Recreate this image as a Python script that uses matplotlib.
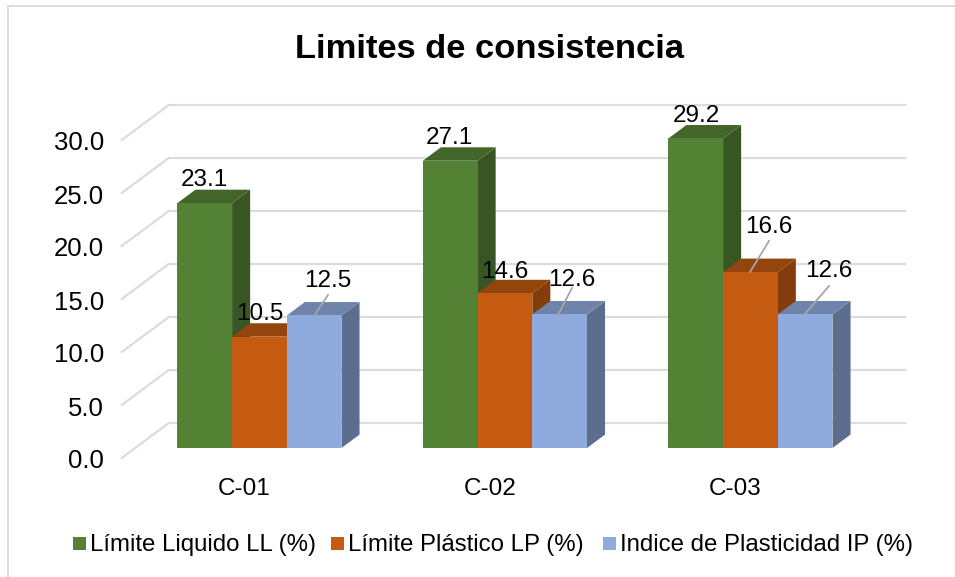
import matplotlib
matplotlib.use("Agg")
import matplotlib.pyplot as plt
from matplotlib.patches import Polygon, Rectangle

categories = ["C-01", "C-02", "C-03"]
series_names = ["Límite Liquido LL (%)", "Límite Plástico LP (%)", "Indice de Plasticidad IP (%)"]
ll_values = [23.1, 27.1, 29.2]
lp_values = [10.5, 14.6, 16.6]
ip_values = [12.5, 12.6, 12.6]
y_ticks = [0, 5, 10, 15, 20, 25, 30]

front_colors = ["#548235", "#C55A11", "#8FAADC"]
top_colors = ["#426529", "#94440D", "#6F84AB"]
side_colors = ["#375623", "#843C0C", "#5C6D8E"]

W, H = 955, 577
X_UNIT = 245.5   # px per category
Y_UNIT = 10.6    # px per value unit
X0, Y0 = 244.5, 458.0   # px of category 0 / value 0 on the front floor edge
DEPTH_X, DEPTH_Y = 47 / X_UNIT, 35 / Y_UNIT  # full floor depth in data units
BAR_W = 54.7 / X_UNIT
BAR_SHIFT = 1.5 / X_UNIT
D_FRONT, D_BACK = 0.286, 0.67

plt.rcParams["font.family"] = ["Liberation Sans", "DejaVu Sans"]

fig = plt.figure(figsize=(W / 100, H / 100), dpi=100)
ax = fig.add_axes([0, 0, 1, 1])
ax.set_xlim(-X0 / X_UNIT, (W - X0) / X_UNIT)
ax.set_ylim(-(H - Y0) / Y_UNIT, Y0 / Y_UNIT)
ax.axis("off")


def pt(x, y, d):
    return (x + d * DEPTH_X, y + d * DEPTH_Y)


def px_x(px):
    return (px - X0) / X_UNIT


def px_y(py):
    return (Y0 - py) / Y_UNIT


# walls and floor lines
grid = "#DCDCDC"
for v in y_ticks:
    left, right = -0.5, 2.5
    a, b, c = pt(left, v, 0), pt(left, v, 1), pt(right, v, 1)
    ax.plot([a[0], b[0], c[0]], [a[1], b[1], c[1]], color=grid, lw=1.6, zorder=1,
            solid_joinstyle="miter")
    ax.text(px_x(104), v - 3.5 / Y_UNIT, f"{v:.1f}", ha="right", va="center", fontsize=18.5, color="black")

# bars
all_series = [ll_values, lp_values, ip_values]
for c in range(len(categories)):
    for s, vals in enumerate(all_series):
        v = vals[c]
        x0 = c - 1.5 * BAR_W + s * BAR_W + BAR_SHIFT
        x1 = x0 + BAR_W
        z = 3 + c * 3 + s * 0.1
        side = [pt(x1, 0, D_FRONT), pt(x1, 0, D_BACK), pt(x1, v, D_BACK), pt(x1, v, D_FRONT)]
        top = [pt(x0, v, D_FRONT), pt(x1, v, D_FRONT), pt(x1, v, D_BACK), pt(x0, v, D_BACK)]
        front = [pt(x0, 0, D_FRONT), pt(x1, 0, D_FRONT), pt(x1, v, D_FRONT), pt(x0, v, D_FRONT)]
        ax.add_patch(Polygon(side, fc=side_colors[s], ec="none", zorder=z))
        ax.add_patch(Polygon(top, fc=top_colors[s], ec="none", zorder=z))
        ax.add_patch(Polygon(front, fc=front_colors[s], ec="none", zorder=z))

# data labels, centres in px
label_pos = {
    (0, 0): (204, 180), (1, 0): (260, 314), (2, 0): (328, 281),
    (0, 1): (449, 138), (1, 1): (505, 272), (2, 1): (572, 280),
    (0, 2): (696, 116), (1, 2): (769, 227), (2, 2): (829, 271),
}
for (s, c), (px, py) in label_pos.items():
    ax.text(px_x(px), px_y(py), f"{all_series[s][c]:.1f}", ha="center", va="center",
            fontsize=17.5, color="black", zorder=30)

# leader lines, ends given in px
leaders = [(328, 295, 314, 316), (572, 288, 558, 315), (769, 241, 750, 272), (829, 286, 804, 315)]
for x1, y1, x2, y2 in leaders:
    ax.plot([px_x(x1), px_x(x2)], [px_y(y1), px_y(y2)], color="#A6A6A6", lw=1.3, zorder=29)

for i, name in enumerate(categories):
    ax.text(i, px_y(489), name, ha="center", va="center", fontsize=17.5, color="black")

fig.text(489 / W, 1 - 50 / H, "Limites de consistencia", ha="center", va="center",
         fontsize=24.8, fontweight="bold", color="black")

# legend
text_x = [90, 348, 620]
for i, name in enumerate(series_names):
    fig.patches.append(Rectangle(((text_x[i] - 17) / W, 1 - 550 / H), 13 / W, 13 / H, transform=fig.transFigure,
                                 fc=front_colors[i], ec="none"))
    fig.text(text_x[i] / W, 1 - 545 / H, name, ha="left", va="center", fontsize=17.3, color="black")

# chart frame
fig.patches.append(Rectangle((8 / W, -0.01), 1.0, 1 - 6 / H + 0.01, transform=fig.transFigure,
                             fc="none", ec="#DCDCDC", lw=1.4))

fig.savefig("out.png", dpi=100)
